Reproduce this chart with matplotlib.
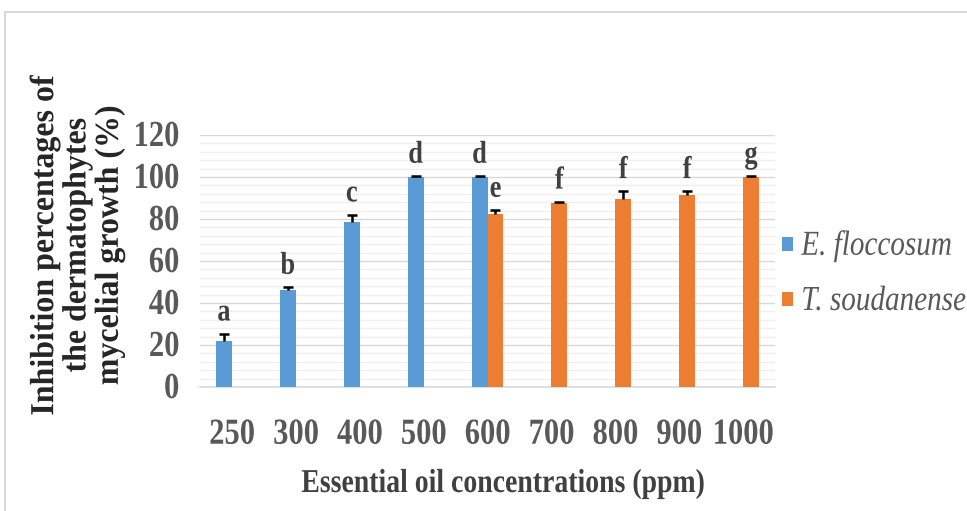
import numpy as np
import matplotlib
matplotlib.use("Agg")
import matplotlib.pyplot as plt
import matplotlib.patheffects as pe
from matplotlib.transforms import Affine2D
from matplotlib.lines import Line2D

# data
conc = ["250", "300", "400", "500", "600", "700", "800", "900", "1000"]
eflo = [22, 46, 78.5, 100, 100, 0, 0, 0, 0]
eflo_err = [3.3, 1.5, 3.5, 0.4, 0.4, 0, 0, 0, 0]
tsou = [0, 0, 0, 0, 82.5, 87.7, 89.6, 91.6, 100]
tsou_err = [0, 0, 0, 0, 1.7, 0.4, 3.5, 1.5, 0.4]
eflo_letters = ["a", "b", "c", "d", "d", "", "", "", ""]
tsou_letters = ["", "", "", "", "e", "f", "f", "f", "g"]

BLUE = "#5B9BD5"
ORANGE = "#ED7D31"


class Tall(pe.AbstractPathEffect):
    # the reference uses a narrow, tall Times; stretch glyphs upward
    def __init__(self, sy=1.2):
        super().__init__()
        self.sy = sy

    def draw_path(self, renderer, gc, tpath, affine, rgbFace=None):
        renderer.draw_path(gc, tpath, Affine2D().scale(1, self.sy) + affine, rgbFace)


tall = [Tall(1.2)]
plt.rcParams["font.family"] = "Liberation Serif"

fig = plt.figure(figsize=(9.67, 5.11), dpi=100)
ax = fig.add_axes([200 / 967, 1 - 387 / 511, 575 / 967, 252 / 511])

x = np.arange(len(conc))
w = 0.25
ax.bar(x - w / 2, eflo, w, color=BLUE, label="E. floccosum", zorder=3)
ax.bar(x + w / 2, tsou, w, color=ORANGE, label="T. soudanense", zorder=3)


def plus_err(xs, vals, errs):
    # Excel style "plus" error bars: only the upper whisker and cap
    xs = np.asarray(xs, float)
    vals = np.asarray(vals, float)
    errs = np.asarray(errs, float)
    keep = vals > 0
    eb = ax.errorbar(xs[keep], vals[keep], yerr=[np.zeros(keep.sum()), errs[keep]], fmt="none",
                     ecolor="black", elinewidth=1.8, capsize=3.5, capthick=1.8, zorder=4)
    eb[1][0].set_visible(False)


plus_err(x - w / 2, eflo, eflo_err)
plus_err(x + w / 2, tsou, tsou_err)

for i in range(len(conc)):
    if eflo_letters[i]:
        ax.text(x[i] - w / 2, eflo[i] + eflo_err[i] + 4, eflo_letters[i], ha="center", va="bottom",
                fontsize=19, fontweight="bold", color="#404040", path_effects=tall)
    if tsou_letters[i]:
        ax.text(x[i] + w / 2, tsou[i] + tsou_err[i] + 4, tsou_letters[i], ha="center", va="bottom",
                fontsize=19, fontweight="bold", color="#404040", path_effects=tall)

ax.set_xlim(-0.5, len(conc) - 0.5)
ax.set_ylim(0, 120)
ax.set_yticks(np.arange(0, 121, 20))
ax.set_yticks(np.arange(0, 121, 4), minor=True)
ax.set_xticks(x)
ax.set_xticklabels(conc)
ax.grid(axis="y", which="major", color="#d9d9d9", lw=1.0, zorder=0)
ax.grid(axis="y", which="minor", color="#efefef", lw=1.0, zorder=0)
ax.tick_params(which="both", length=0)
ax.tick_params(axis="y", pad=15)
ax.tick_params(axis="x", pad=25)
for lab in ax.get_xticklabels() + ax.get_yticklabels():
    lab.set_fontsize(22)
    lab.set_fontweight("bold")
    lab.set_color("#595959")
    lab.set_path_effects(tall)
for s in ["top", "right", "left"]:
    ax.spines[s].set_visible(False)
ax.spines["bottom"].set_color("#d9d9d9")
ax.spines["bottom"].set_linewidth(1.2)

fig.text(78 / 967, 1 - 245 / 511,
         "Inhibition percentages of\nthe dermatophytes\nmycelial growth (%)",
         rotation=90, ha="center", va="center", fontsize=23, fontweight="bold",
         color="#262626", linespacing=1.15, path_effects=[Tall(1.05)])
fig.text(503 / 967, 1 - 492 / 511, "Essential oil concentrations (ppm)", ha="center", va="baseline",
         fontsize=20, fontweight="bold", color="#404040", path_effects=tall)

leg = ax.legend(loc="center left", bbox_to_anchor=(1.0, 0.445), frameon=False,
                prop=dict(family="Liberation Serif", style="italic", size=21),
                handlelength=0.36, handleheight=0.36, handletextpad=0.3, labelspacing=1.0,
                borderpad=0.0, borderaxespad=0.24)
for t in leg.get_texts():
    t.set_color("#595959")
    t.set_path_effects(tall)

# light frame around the chart
fig.add_artist(Line2D([5 / 967, 5 / 967, 1.0], [0.0, 1 - 12 / 511, 1 - 12 / 511],
                      color="#d9d9d9", lw=1.5))

fig.savefig("out.png", dpi=100)
